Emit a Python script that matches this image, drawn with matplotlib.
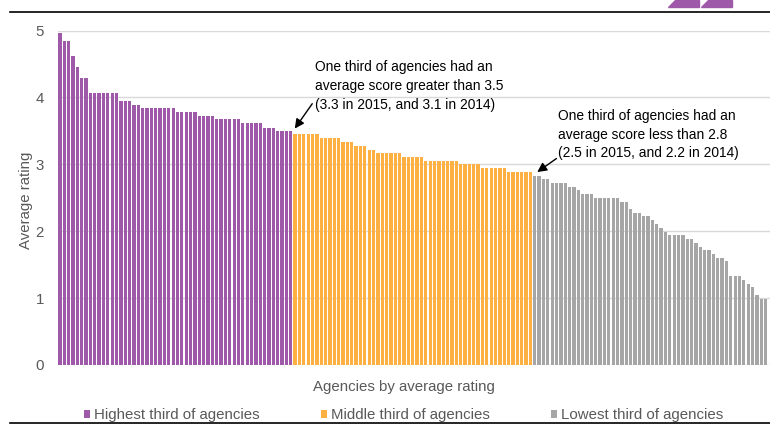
import matplotlib
matplotlib.use("Agg")
import matplotlib.pyplot as plt
import matplotlib.patches as patches
import numpy as np

plt.rcParams['font.family'] = ['Liberation Sans', 'DejaVu Sans']

# average rating per agency, sorted, split in thirds
highest = [4.96, 4.84, 4.84, 4.62, 4.45, 4.29, 4.29,
           4.07, 4.07, 4.07, 4.07, 4.07, 4.07, 4.07,
           3.95, 3.95, 3.95, 3.89, 3.89,
           3.84, 3.84, 3.84, 3.84, 3.84, 3.84, 3.84, 3.84,
           3.78, 3.78, 3.78, 3.78, 3.78,
           3.72, 3.72, 3.72, 3.72,
           3.67, 3.67, 3.67, 3.67, 3.67, 3.67,
           3.61, 3.61, 3.61, 3.61, 3.61,
           3.55, 3.55, 3.55,
           3.50, 3.50, 3.50, 3.50]
middle = [3.45, 3.45, 3.45, 3.45, 3.45, 3.45,
          3.39, 3.39, 3.39, 3.39, 3.39,
          3.33, 3.33, 3.33,
          3.28, 3.28, 3.28,
          3.22, 3.22,
          3.17, 3.17, 3.17, 3.17, 3.17, 3.17,
          3.11, 3.11, 3.11, 3.11, 3.11,
          3.05, 3.05, 3.05, 3.05, 3.05, 3.05, 3.05, 3.05,
          3.00, 3.00, 3.00, 3.00, 3.00,
          2.94, 2.94, 2.94, 2.94, 2.94, 2.94,
          2.89, 2.89, 2.89, 2.89, 2.89, 2.89]
lowest = [2.83, 2.83, 2.78, 2.78, 2.72, 2.72, 2.72, 2.72,
          2.66, 2.66, 2.61, 2.55, 2.55, 2.55,
          2.50, 2.50, 2.50, 2.50, 2.50, 2.50,
          2.44, 2.44, 2.33, 2.27, 2.27, 2.22, 2.22,
          2.16, 2.11, 2.05, 1.99, 1.94, 1.94, 1.94, 1.94,
          1.88, 1.88, 1.83, 1.77, 1.72, 1.72, 1.66, 1.60, 1.60,
          1.55, 1.33, 1.33, 1.33, 1.27, 1.21, 1.16, 1.05, 0.99, 0.99]

labels = ['Highest third of agencies', 'Middle third of agencies', 'Lowest third of agencies']
colors = ['#9e5aa8', '#ffb042', '#a6a6a6']
yticks = [0, 1, 2, 3, 4, 5]

note_high = "One third of agencies had an\naverage score greater than 3.5\n(3.3 in 2015, and 3.1 in 2014)"
note_low = "One third of agencies had an\naverage score less than 2.8\n(2.5 in 2015, and 2.2 in 2014)"

grey_txt = '#595959'
fs = 10.8

fig = plt.figure(figsize=(7.7, 4.24), dpi=100)
ax = fig.add_axes([57.7/770, 1-365/424, 1-57.7/770, (365-30.5)/424])

start = 0
bars = []
for vals, col in zip([highest, middle, lowest], colors):
    xs = np.arange(start, start + len(vals))
    bars.append(ax.bar(xs, vals, width=0.75, color=col, zorder=2))
    start += len(vals)

ax.set_xlim(-0.5, 163)
ax.set_ylim(0, 5)
ax.set_yticks(yticks)
ax.set_xticks([])
ax.grid(axis='y', color='#d9d9d9', lw=1, zorder=0)
for s in ax.spines.values():
    s.set_visible(False)
ax.tick_params(axis='y', length=0, pad=10, labelsize=fs, labelcolor=grey_txt)

# annotations
n1 = len(highest)
n2 = n1 + len(middle)
ax.text(58.6, 4.555, note_high, fontsize=9.9, va='top', ha='left', linespacing=1.42)
ax.annotate('', xy=(n1 - 1 + 0.55, highest[-1]), xytext=(58.3, 3.94),
            arrowprops=dict(arrowstyle='-|>', color='black', lw=1, mutation_scale=14))
ax.text(114.3, 3.825, note_low, fontsize=9.9, va='top', ha='left', linespacing=1.42)
ax.annotate('', xy=(n2 + 0.05, lowest[0] + 0.03), xytext=(114.5, 3.11),
            arrowprops=dict(arrowstyle='-|>', color='black', lw=1, mutation_scale=14))

fig.text(26/770, 1-200/424, 'Average rating', rotation=90, ha='center', va='center',
         fontsize=fs, color=grey_txt)
fig.text(404/770, 1-386.5/424, 'Agencies by average rating', ha='center', va='center',
         fontsize=fs, color=grey_txt)

leg = fig.legend(bars, labels, loc='center', bbox_to_anchor=(403.5/770, 1-415.5/424),
                 ncol=3, frameon=False, fontsize=fs, handlelength=0.4, handleheight=0.4,
                 handletextpad=0.27, columnspacing=4.1, borderpad=0, borderaxespad=0)
for t in leg.get_texts():
    t.set_color(grey_txt)

# page decorations: rules and logo corner
fig.add_artist(plt.Line2D([10/770, 1], [1-12.3/424, 1-12.3/424], color='black', lw=1.2,
                          transform=fig.transFigure))
fig.add_artist(plt.Line2D([10/770, 1], [1-422.7/424, 1-422.7/424], color='black', lw=1.2,
                          transform=fig.transFigure))
for x0 in [668, 701]:
    pts = [(x0, 7.3), (x0 + 31, 7.3), (x0 + 31, 0), (x0 + 7, 0)]
    fig.add_artist(patches.Polygon([(px/770, 1-py/424) for px, py in pts], closed=True,
                                   color='#9e5aa8', transform=fig.transFigure))

fig.savefig('out.png', dpi=100)
